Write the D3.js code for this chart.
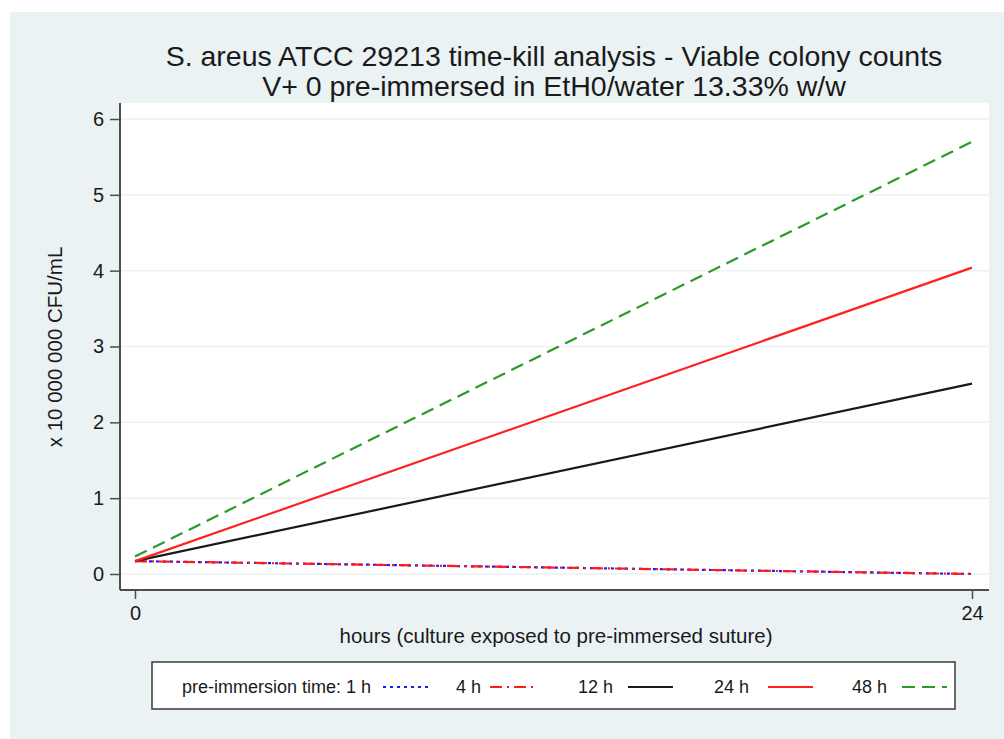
<!DOCTYPE html>
<html>
<head>
<meta charset="utf-8">
<script src="https://cdn.jsdelivr.net/npm/d3@7/dist/d3.min.js"></script>
<style>
  html, body { margin: 0; padding: 0; background: #ffffff; }
  svg { display: block; font-family: "Liberation Sans", Arial, sans-serif; }
</style>
</head>
<body>
<svg id="chart" width="1004" height="739"></svg>
<script>
// Time points (hours of exposure)
const hours = [0, 24];

// Viable counts (x 10 000 000 CFU/mL) for each pre-immersion time
const series1h  = [0.17, 0.00];
const series4h  = [0.17, 0.00];
const series12h = [0.17, 2.51];
const series24h = [0.17, 4.04];
const series48h = [0.23, 5.70];

const yTicks = [0, 1, 2, 3, 4, 5, 6];
const xTicks = [0, 24];

const legendLabels = ["pre-immersion time: 1 h", "4 h", "12 h", "24 h", "48 h"];

const styles = [
  { color: "#1a1aff", dash: "3,4",        width: 2.2 },
  { color: "#ff1a1a", dash: "12,5,2,5",   width: 2.2 },
  { color: "#1a1a1a", dash: null,         width: 2.2 },
  { color: "#ff2020", dash: null,         width: 2.2 },
  { color: "#2a9a2a", dash: "13,7",       width: 2.2 }
];

const seriesList = [series1h, series4h, series12h, series24h, series48h];

const svg = d3.select("#chart");

// outer graph region
svg.append("rect").attr("x", 10).attr("y", 12).attr("width", 994).attr("height", 727)
  .attr("fill", "#eaf2f3");

const plot = { left: 120, right: 989, top: 103, bottom: 590 };

svg.append("rect")
  .attr("x", plot.left).attr("y", plot.top)
  .attr("width", plot.right - plot.left).attr("height", plot.bottom - plot.top)
  .attr("fill", "#ffffff");

const x = d3.scaleLinear().domain([0, 24]).range([135, 972]);
const y = d3.scaleLinear().domain([0, 6]).range([574, 119]);

// horizontal grid
svg.append("g").selectAll("line").data(yTicks).join("line")
  .attr("x1", plot.left).attr("x2", plot.right)
  .attr("y1", d => y(d)).attr("y2", d => y(d))
  .attr("stroke", "#eaf2f3").attr("stroke-width", 1.5);

// axes
const yAxis = svg.append("g").attr("transform", `translate(${plot.left},0)`)
  .call(d3.axisLeft(y).tickValues(yTicks).tickSize(10).tickPadding(6).tickFormat(d3.format("d")));
const xAxis = svg.append("g").attr("transform", `translate(0,${plot.bottom})`)
  .call(d3.axisBottom(x).tickValues(xTicks).tickSize(9).tickPadding(7).tickFormat(d3.format("d")));

[yAxis, xAxis].forEach(a => {
  a.select(".domain").remove();
  a.selectAll(".tick line").attr("stroke", "#4d4d4d").attr("stroke-width", 1.5);
  a.selectAll(".tick text").attr("fill", "#1a1a1a").style("font-size", "20px")
    .style("font-family", "'Liberation Sans', Arial, sans-serif");
});

svg.append("line").attr("x1", plot.left).attr("x2", plot.left)
  .attr("y1", plot.top).attr("y2", plot.bottom)
  .attr("stroke", "#4d4d4d").attr("stroke-width", 2);
svg.append("line").attr("x1", plot.left).attr("x2", plot.right)
  .attr("y1", plot.bottom).attr("y2", plot.bottom)
  .attr("stroke", "#4d4d4d").attr("stroke-width", 2);

// series lines
const line = d3.line().x((d, i) => x(hours[i])).y(d => y(d));
seriesList.forEach((s, i) => {
  svg.append("path").datum(s)
    .attr("d", line)
    .attr("fill", "none")
    .attr("stroke", styles[i].color)
    .attr("stroke-width", styles[i].width)
    .attr("stroke-dasharray", styles[i].dash);
});

// titles
const title = svg.append("text").attr("text-anchor", "middle").attr("fill", "#1a1a1a")
  .style("font-size", "28.5px");
title.append("tspan").attr("x", 554).attr("y", 66)
  .text("S. areus ATCC 29213 time-kill analysis - Viable colony counts");
title.append("tspan").attr("x", 554).attr("y", 96)
  .text("V+ 0 pre-immersed in EtH0/water 13.33% w/w");

svg.append("text").attr("text-anchor", "middle").attr("fill", "#1a1a1a")
  .attr("x", 556).attr("y", 643).style("font-size", "20.5px")
  .text("hours (culture exposed to pre-immersed suture)");

svg.append("text").attr("text-anchor", "middle").attr("fill", "#1a1a1a")
  .attr("transform", "translate(62,347) rotate(-90)").style("font-size", "20.5px")
  .text("x 10 000 000 CFU/mL");

// legend
svg.append("rect").attr("x", 152).attr("y", 662).attr("width", 803).attr("height", 47)
  .attr("fill", "#ffffff").attr("stroke", "#3a3a3a").attr("stroke-width", 1.5);

const legendY = 687;
const labelEnds = [371, 481, 613, 749, 887];
const sampleStarts = [383, 490, 628, 768, 902];
legendLabels.forEach((lab, i) => {
  svg.append("text").attr("x", labelEnds[i]).attr("y", legendY + 6)
    .attr("text-anchor", "end").attr("fill", "#1a1a1a").style("font-size", "18px").text(lab);
  svg.append("line").attr("x1", sampleStarts[i]).attr("x2", sampleStarts[i] + 45)
    .attr("y1", legendY).attr("y2", legendY)
    .attr("stroke", styles[i].color).attr("stroke-width", styles[i].width)
    .attr("stroke-dasharray", styles[i].dash);
});
</script>
</body>
</html>
